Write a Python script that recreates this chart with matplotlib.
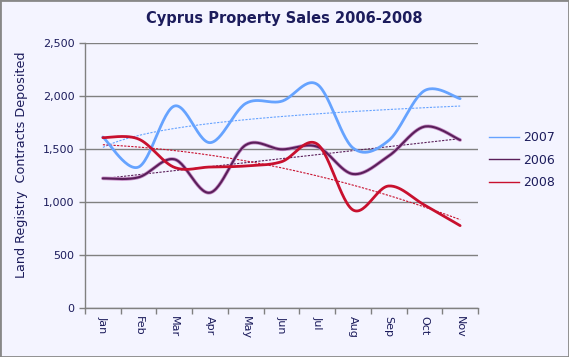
import numpy as np
import matplotlib
matplotlib.use("Agg")
import matplotlib.pyplot as plt
from matplotlib.lines import Line2D
from matplotlib.patches import Rectangle

months = ["Jan", "Feb", "Mar", "Apr", "May", "Jun", "Jul", "Aug", "Sep", "Oct", "Nov"]
sales_2007 = [1613, 1330, 1905, 1560, 1930, 1950, 2110, 1510, 1580, 2050, 1975]
sales_2006 = [1223, 1233, 1403, 1088, 1538, 1497, 1522, 1264, 1434, 1711, 1585]
sales_2008 = [1607, 1594, 1327, 1330, 1340, 1380, 1547, 925, 1151, 972, 777]
yticks = [0, 500, 1000, 1500, 2000, 2500]

NAVY = "#1c1c5c"
BG = "#f4f4ff"
GRID = "#808080"
C07 = "#66a3ff"
C06 = "#5a1f5a"
C08 = "#c8102e"


def catmull(x, y, n=30):
    x = np.asarray(x, float)
    y = np.asarray(y, float)
    px = np.concatenate([[x[0]], x, [x[-1]]])
    py = np.concatenate([[y[0]], y, [y[-1]]])
    xs, ys = [], []
    t = np.linspace(0, 1, n)
    for i in range(1, len(px) - 2):
        p0, p1, p2, p3 = [np.array([px[j], py[j]]) for j in (i - 1, i, i + 1, i + 2)]
        c1 = p1 + (p2 - p0) / 6
        c2 = p2 - (p3 - p1) / 6
        b = ((1 - t) ** 3)[:, None] * p1 + (3 * (1 - t) ** 2 * t)[:, None] * c1 + \
            (3 * (1 - t) * t ** 2)[:, None] * c2 + (t ** 3)[:, None] * p2
        xs.extend(b[:, 0]); ys.extend(b[:, 1])
    return np.array(xs), np.array(ys)


fig = plt.figure(figsize=(5.69, 3.57), dpi=100, facecolor=BG)
ax = fig.add_axes([85 / 569, 1 - 308 / 357, (478 - 85) / 569, (308 - 43) / 357])
ax.set_facecolor(BG)

x = np.arange(len(months))
xm = np.arange(1, len(months) + 1)

# trend lines
tx = np.linspace(0, len(months) - 1, 200)
a, b = np.polyfit(np.log(xm), sales_2007, 1)
ax.plot(tx, a * np.log(tx + 1) + b, color=C07, lw=0.8, ls=(0, (2, 1.2)), zorder=3)
p06 = np.polyfit(xm, sales_2006, 1)
ax.plot(tx, np.polyval(p06, tx + 1), color=C06, lw=0.8, ls=(0, (2, 1.2)), zorder=3)
p08 = np.polyfit(xm, sales_2008, 2)
ax.plot(tx, np.polyval(p08, tx + 1), color=C08, lw=0.8, ls=(0, (2, 1.2)), zorder=3)

# smoothed series
sx, sy = catmull(x, sales_2007)
ax.plot(sx, sy, color=C07, lw=2.0, zorder=4, solid_capstyle="round")
sx, sy = catmull(x, sales_2006)
ax.plot(sx, sy, color="#c48ac4", lw=2.6, zorder=4, solid_capstyle="round")
ax.plot(sx, sy, color=C06, lw=1.5, zorder=5, solid_capstyle="round")
sx, sy = catmull(x, sales_2008)
ax.plot(sx, sy, color=C08, lw=2.0, zorder=6, solid_capstyle="round")

ax.set_xlim(-0.5, len(months) - 0.5)
ax.set_ylim(0, 2500)
ax.set_yticks(yticks)
ax.set_yticklabels([f"{v:,}" for v in yticks], color=NAVY, fontsize=8)
ax.yaxis.grid(True, color=GRID, lw=1)
ax.set_axisbelow(True)

ax.set_xticks(np.arange(-0.5, len(months), 1))
ax.set_xticklabels([])
ax.set_xticks(x, minor=True)
ax.set_xticklabels(months, minor=True, rotation=-90, color=NAVY, fontsize=8)
ax.tick_params(axis="x", which="minor", length=0, pad=6)
ax.tick_params(axis="both", which="major", color=GRID, length=4, width=1)

for s in ("top", "right"):
    ax.spines[s].set_visible(False)
for s in ("left", "bottom"):
    ax.spines[s].set_color(GRID)
    ax.spines[s].set_linewidth(1)

ax.set_ylabel("Land Registry  Contracts Deposited", color=NAVY, fontsize=9.2)
ax.yaxis.set_label_coords(-(85 - 28) / 393, (308 - 165) / 265)
fig.text(0.5, 1 - 18 / 357, "Cyprus Property Sales 2006-2008", ha="center", va="center",
         fontsize=10.5, fontweight="bold", color=NAVY)

handles = [Line2D([], [], color=C07, lw=1),
           Line2D([], [], color=C06, lw=1),
           Line2D([], [], color=C08, lw=1)]
leg = fig.legend(handles, ["2007", "2006", "2008"], loc="center left",
                 bbox_to_anchor=(478 / 569, 1 - 160 / 357), frameon=False,
                 fontsize=9, handlelength=2.4, labelspacing=0.75, handletextpad=0.3)
for t in leg.get_texts():
    t.set_color(NAVY)

fig.patches.append(Rectangle((0, 0), 1, 1, transform=fig.transFigure, fill=False,
                             edgecolor="#888888", lw=2))

fig.savefig("out.png", dpi=100, facecolor=BG)
